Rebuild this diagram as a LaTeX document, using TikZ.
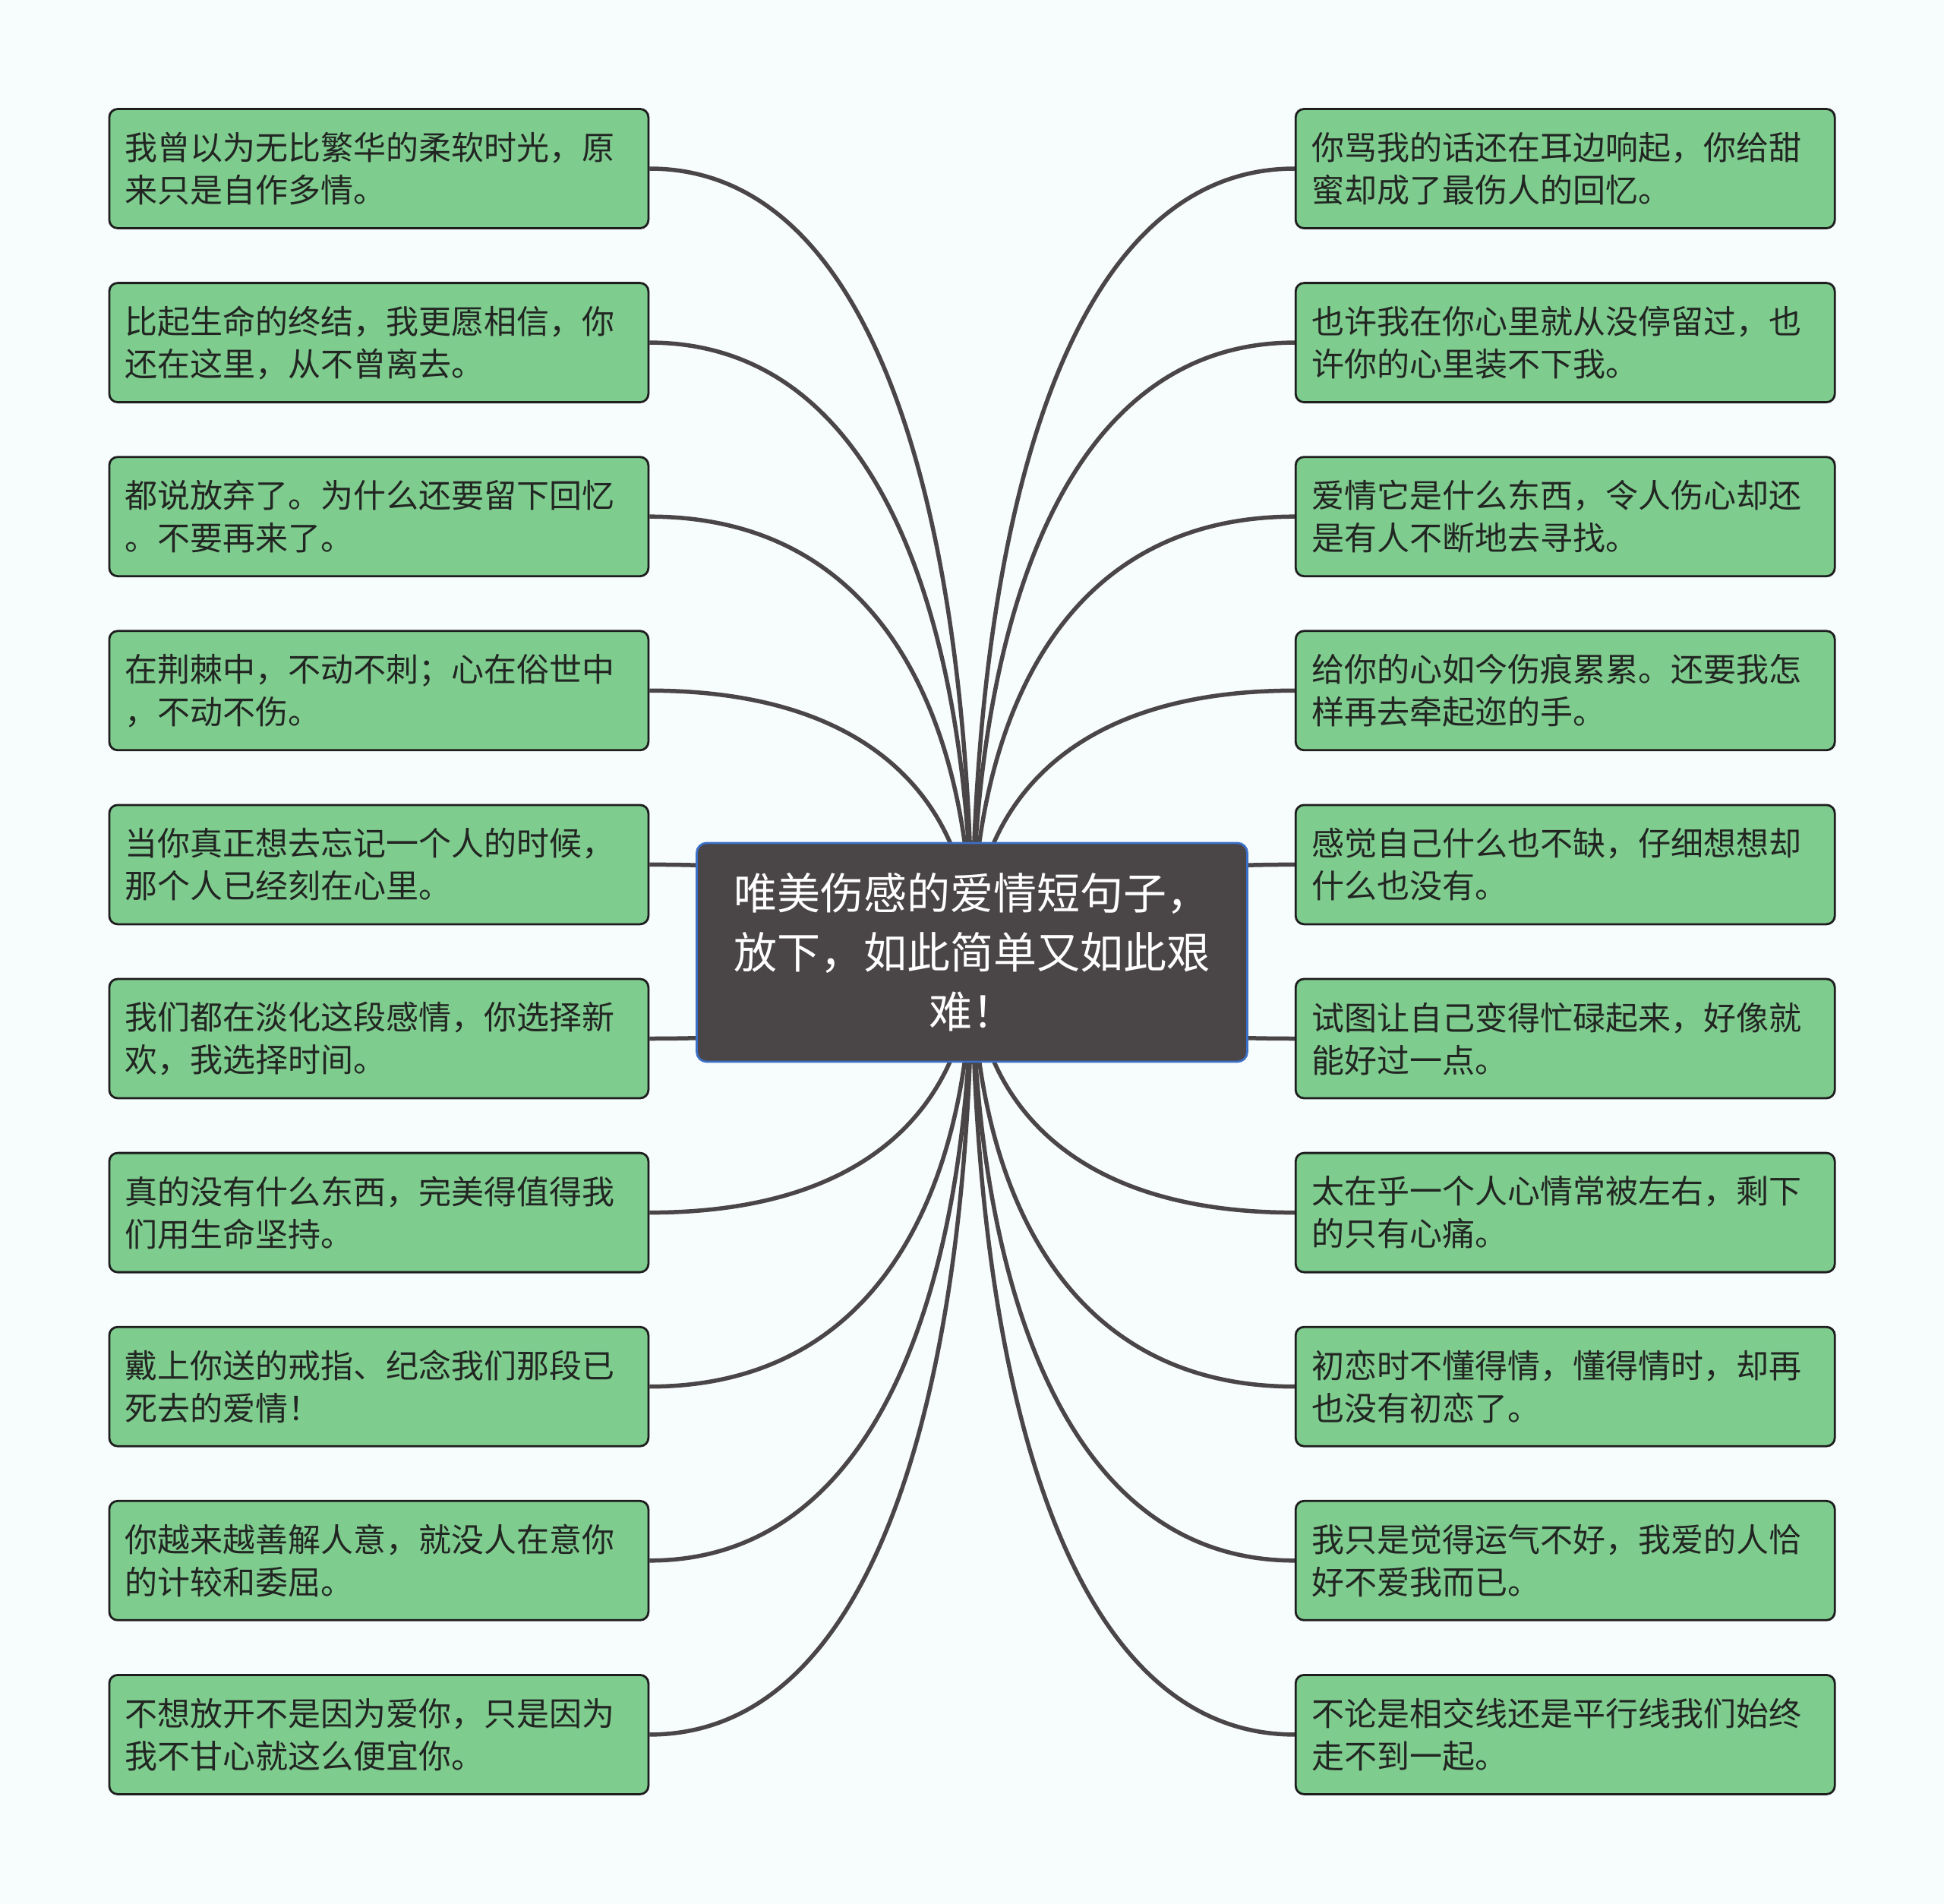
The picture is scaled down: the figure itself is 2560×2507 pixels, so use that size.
\documentclass[tikz,border=0pt]{standalone}
\usepackage{fontspec}
\setmainfont{Noto Sans CJK SC}
\usetikzlibrary{calc,backgrounds}
\definecolor{bgc}{HTML}{F7FCFD}
\definecolor{leaffill}{HTML}{7FCC8F}
\definecolor{leafline}{HTML}{1E1E1E}
\definecolor{leaftext}{HTML}{222622}
\definecolor{rootfill}{HTML}{4A4546}
\definecolor{rootline}{HTML}{3B70C6}
\definecolor{linkc}{HTML}{4A4546}
\begin{document}
\begin{tikzpicture}[x=1pt,y=-1pt,
  leaf/.style={draw=leafline,line width=2.8pt,fill=leaffill,rounded corners=11pt,
    text width=668pt,inner xsep=21pt,inner ysep=0pt,minimum height=157pt,align=left,
    text=leaftext,font=\fontsize{43}{56}\selectfont},
  root/.style={draw=rootline,line width=2.8pt,fill=rootfill,rounded corners=13pt,
    minimum width=725pt,minimum height=288pt,inner sep=0pt,align=center,
    text=white,font=\fontsize{57}{78}\selectfont},
  link/.style={draw=linkc,line width=5.5pt}]
\useasboundingbox (0,0) rectangle (2560,2507);
\node[root] (C) at (1280,1254) {唯美伤感的爱情短句子，\\放下，如此简单又如此艰\\难！};
\def\LX{498.9}\def\RX{2061.2}
\node[leaf] (L1) at (\LX,222.0) {我曾以为无比繁华的柔软时光，原\\来只是自作多情。};
\node[leaf] (L2) at (\LX,451.1) {比起生命的终结，我更愿相信，你\\还在这里，从不曾离去。};
\node[leaf] (L3) at (\LX,680.2) {都说放弃了。为什么还要留下回忆\\。不要再来了。};
\node[leaf] (L4) at (\LX,909.3) {在荆棘中，不动不刺；心在俗世中\\，不动不伤。};
\node[leaf] (L5) at (\LX,1138.4) {当你真正想去忘记一个人的时候，\\那个人已经刻在心里。};
\node[leaf] (L6) at (\LX,1367.5) {我们都在淡化这段感情，你选择新\\欢，我选择时间。};
\node[leaf] (L7) at (\LX,1596.6) {真的没有什么东西，完美得值得我\\们用生命坚持。};
\node[leaf] (L8) at (\LX,1825.7) {戴上你送的戒指、纪念我们那段已\\死去的爱情！};
\node[leaf] (L9) at (\LX,2054.8) {你越来越善解人意，就没人在意你\\的计较和委屈。};
\node[leaf] (L10) at (\LX,2283.9) {不想放开不是因为爱你，只是因为\\我不甘心就这么便宜你。};
\node[leaf] (R1) at (\RX,222.0) {你骂我的话还在耳边响起，你给甜\\蜜却成了最伤人的回忆。};
\node[leaf] (R2) at (\RX,451.1) {也许我在你心里就从没停留过，也\\许你的心里装不下我。};
\node[leaf] (R3) at (\RX,680.2) {爱情它是什么东西，令人伤心却还\\是有人不断地去寻找。};
\node[leaf] (R4) at (\RX,909.3) {给你的心如今伤痕累累。还要我怎\\样再去牵起迩的手。};
\node[leaf] (R5) at (\RX,1138.4) {感觉自己什么也不缺，仔细想想却\\什么也没有。};
\node[leaf] (R6) at (\RX,1367.5) {试图让自己变得忙碌起来，好像就\\能好过一点。};
\node[leaf] (R7) at (\RX,1596.6) {太在乎一个人心情常被左右，剩下\\的只有心痛。};
\node[leaf] (R8) at (\RX,1825.7) {初恋时不懂得情，懂得情时，却再\\也没有初恋了。};
\node[leaf] (R9) at (\RX,2054.8) {我只是觉得运气不好，我爱的人恰\\好不爱我而已。};
\node[leaf] (R10) at (\RX,2283.9) {不论是相交线还是平行线我们始终\\走不到一起。};
\begin{scope}[on background layer]
\fill[bgc] (0,0) rectangle (2560,2507);
\foreach \k in {1,...,10}{
  \draw[link] (C.center) .. controls ($(C.center)!0.5!(C.center |- L\k.east)$)
     and ($(L\k.east)!0.75!(C.center |- L\k.east)$) .. (L\k.east);
  \draw[link] (C.center) .. controls ($(C.center)!0.5!(C.center |- R\k.west)$)
     and ($(R\k.west)!0.75!(C.center |- R\k.west)$) .. (R\k.west);
}
\end{scope}
\end{tikzpicture}
\end{document}
